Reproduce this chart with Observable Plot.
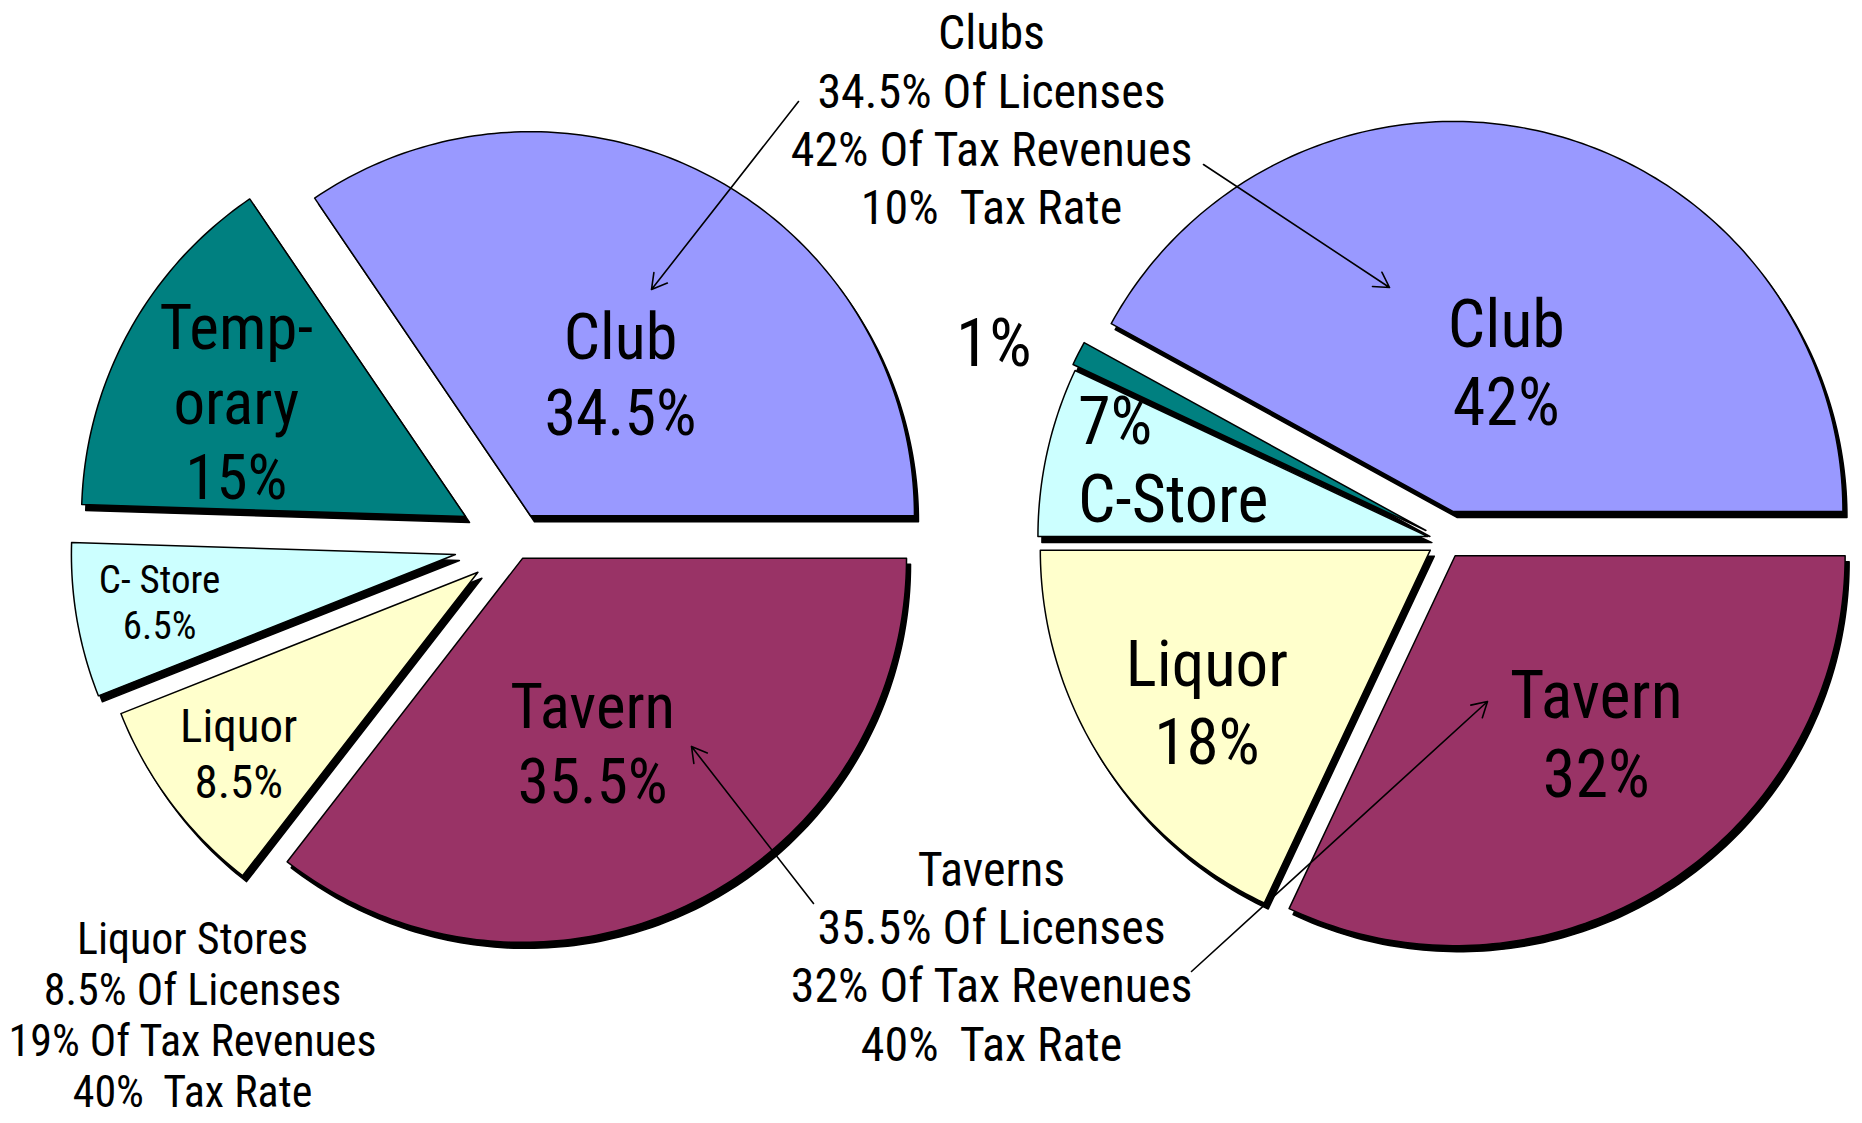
<!DOCTYPE html>
<html><head><meta charset="utf-8">
<script src="https://cdn.jsdelivr.net/npm/d3@7"></script>
<script src="https://cdn.jsdelivr.net/npm/@observablehq/plot@0.6"></script>
<style>
html,body{margin:0;padding:0;background:#fff;}
</style></head><body><div id="chart"></div>
<script>
// ---- data ----
const categories = ["Club", "Temporary", "C-Store", "Liquor", "Tavern"];
const licenseShares = [34.5, 15, 6.5, 8.5, 35.5];   // % of licenses (left pie)
const revenueShares = [42, 1, 7, 18, 32];           // % of tax revenues (right pie)
const sliceColors = ["#9999FF", "#008080", "#CCFFFF", "#FFFFCC", "#993366"];
const leftNames = ["Club", "Temp-\norary", "C- Store", "Liquor", "Tavern"];
// annotation boxes (as printed in the chart)
const annotationNames = ["Clubs", "Taverns", "Liquor Stores"];
const annotationLicenses = [34.5, 35.5, 8.5];
const annotationRevenues = [42, 32, 19];
const annotationTaxRates = [10, 40, 40];

// ---- layout ----
const W = 1862, H = 1123;
const FONT = '"Liberation Sans Narrow","Arial Narrow","Roboto Condensed",sans-serif';
const leftPie = {center: [515, 543.5], r: 384, explode: [32, 57, 61, 47, 16],
  label: [[0.44, 57.8], [0.67, 153], [0.78, 189], [0.78, 217], [0.51, 291]],
  size: [64, 63, 39, 47, 63]};
const rightPie = {center: [1445, 540], r: 390, explode: [30, 22, 18, 18, 18],
  label: [[0.41, 70.5], [1.21, 156.3], [0.92, 167.3], [0.69, 213.9], [0.58, 308.6]],
  size: [66, 67, 66, 65, 66]};

function buildPie(values, cfg, pie) {
  const total = d3.sum(values);
  let a0 = 0;
  const pts = [], meta = [];
  values.forEach((v, i) => {
    const a1 = a0 + v / total * 2 * Math.PI;
    const mid = (a0 + a1) / 2;
    const ox = cfg.center[0] + cfg.explode[i] * Math.cos(mid);
    const oy = cfg.center[1] - cfg.explode[i] * Math.sin(mid);
    const key = pie + i;
    pts.push({key, cat: categories[i], x: ox, y: oy});
    const n = Math.max(3, Math.ceil((a1 - a0) / (Math.PI / 180)));
    for (let k = 0; k <= n; k++) {
      const a = a0 + (a1 - a0) * k / n;
      pts.push({key, cat: categories[i], x: ox + cfg.r * Math.cos(a), y: oy - cfg.r * Math.sin(a)});
    }
    const [f, deg] = cfg.label[i];
    const la = deg * Math.PI / 180;
    meta.push({i, value: v, x: ox + f * cfg.r * Math.cos(la), y: oy - f * cfg.r * Math.sin(la), size: cfg.size[i]});
    a0 = a1;
  });
  return {pts, meta};
}

const L = buildPie(licenseShares, leftPie, "L");
const R = buildPie(revenueShares, rightPie, "R");

const leftLabels = L.meta.map(m => ({...m, text: `${leftNames[m.i]}\n${m.value}%`, anchor: "middle"}));
const rightLabels = R.meta.map(m => {
  let text, anchor = "middle";
  if (m.i === 1) text = `${m.value}%`;
  else if (m.i === 2) { text = `${m.value}%\n${categories[m.i]}`; anchor = "start"; }
  else text = `${categories[m.i]}\n${m.value}%`;
  return {...m, text, anchor};
});

const annotationPos = [[991, 117.5, 48, 1.215], [991, 954, 48, 1.215], [192, 1014, 44, 1.16]];
const annoData = annotationNames.map((name, k) => ({
  text: `${name}\n${annotationLicenses[k]}% Of Licenses\n${annotationRevenues[k]}% Of Tax Revenues\n${annotationTaxRates[k]}%  Tax Rate`,
  x: annotationPos[k][0], y: annotationPos[k][1], size: annotationPos[k][2], lh: annotationPos[k][3]
}));

const arrows = [
  {x1: 798, y1: 101, x2: 651, y2: 289},
  {x1: 1203, y1: 164, x2: 1389, y2: 287},
  {x1: 813, y1: 903, x2: 691, y2: 746},
  {x1: 1191, y1: 971, x2: 1487, y2: 701}
];

const allPts = L.pts.concat(R.pts);
const textMarks = [];
for (const d of leftLabels.concat(rightLabels)) {
  textMarks.push(Plot.text([d], {x: "x", y: "y", text: "text", fontSize: d.size, lineHeight: 1.19,
    textAnchor: d.anchor, lineAnchor: "middle", fill: "black"}));
}
for (const a of annoData) {
  textMarks.push(Plot.text([a], {x: "x", y: "y", text: "text", fontSize: a.size, lineHeight: a.lh,
    lineAnchor: "middle", fill: "black"}));
}

const chart = Plot.plot({
  width: W, height: H,
  margin: 0,
  x: {domain: [0, W], range: [0, W], axis: null},
  y: {domain: [0, H], range: [0, H], axis: null},
  color: {domain: categories, range: sliceColors},
  style: {fontFamily: FONT, background: "white"},
  marks: [
    Plot.line(allPts, {x: "x", y: "y", z: "key", curve: "linear-closed", fill: "black", stroke: "black", strokeWidth: 1.5, dx: 4, dy: 6}),
    Plot.line(allPts, {x: "x", y: "y", z: "key", curve: "linear-closed", fill: "cat", stroke: "black", strokeWidth: 1.5}),
    ...textMarks,
    Plot.arrow(arrows, {x1: "x1", y1: "y1", x2: "x2", y2: "y2", stroke: "black", strokeWidth: 1.6, headLength: 16})
  ]
});
document.getElementById("chart").appendChild(chart);
</script></body></html>
